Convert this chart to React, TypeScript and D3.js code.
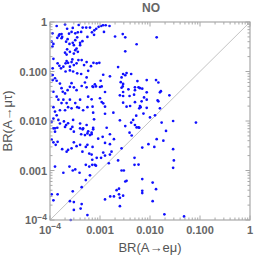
import { useEffect, useRef } from 'react'
import * as d3 from 'd3'

// [BR(A→eμ), BR(A→μτ)]
const brPoints: [number, number][] = [
  [1.12e-4, 0.59], [1.36e-4, 0.83], [1.55e-4, 0.56], [1.7e-4, 0.57], [1.75e-4, 0.5], [2.0e-4, 0.89], [2.2e-4, 0.73], [2.4e-4, 0.58],
  [2.7e-4, 0.63], [2.85e-4, 0.76], [3.2e-4, 0.59], [3.6e-4, 0.62], [3.75e-4, 0.87], [4.2e-4, 0.63], [4.5e-4, 0.77], [5.3e-4, 0.77],
  [5.6e-4, 0.5], [6.3e-4, 0.77], [6.9e-4, 0.62], [7.7e-4, 0.68], [8.4e-4, 0.73], [9.4e-4, 0.8], [1.05e-3, 0.83], [1.15e-3, 0.86],
  [1.3e-3, 0.86], [1.55e-3, 0.83], [1.08e-4, 0.4], [1.12e-4, 0.32], [1.17e-4, 0.36], [1.4e-4, 0.48], [1.5e-4, 0.53], [1.7e-4, 0.47],
  [2.1e-4, 0.4], [2.25e-4, 0.45], [2.45e-4, 0.36], [2.85e-4, 0.38], [3.0e-4, 0.34], [3.2e-4, 0.43], [3.5e-4, 0.49], [4.0e-4, 0.38],
  [4.45e-4, 0.41], [2.2e-4, 0.28], [2.5e-4, 0.25], [3.2e-4, 0.27], [3.4e-4, 0.29], [2.0e-4, 0.24], [2.15e-4, 0.22], [3.0e-4, 0.23],
  [3.6e-4, 0.25], [4.0e-4, 0.34], [1.17e-4, 0.18], [1.42e-4, 0.146], [1.54e-4, 0.13], [1.66e-4, 0.116], [1.85e-4, 0.125], [2.05e-4, 0.146],
  [2.15e-4, 0.163], [2.3e-4, 0.15], [2.5e-4, 0.125], [2.7e-4, 0.155], [2.8e-4, 0.175], [3.0e-4, 0.135], [3.4e-4, 0.146], [3.7e-4, 0.17],
  [4.3e-4, 0.17], [4.8e-4, 0.135], [5.4e-4, 0.155], [6.6e-4, 0.128], [7.4e-4, 0.15], [8.6e-4, 0.146], [9.7e-4, 0.15], [2.05e-4, 0.1],
  [2.5e-4, 0.105], [2.9e-4, 0.1], [3.5e-4, 0.092], [4.2e-4, 0.089], [5.4e-4, 0.076], [5.8e-4, 0.103], [1.13e-4, 0.116], [1.13e-4, 0.085],
  [1.13e-4, 0.067], [1.26e-4, 0.073], [1.36e-4, 0.065], [1.58e-4, 0.057], [1.7e-4, 0.046], [1.8e-4, 0.039], [2.0e-4, 0.036], [2.25e-4, 0.042],
  [2.5e-4, 0.049], [2.7e-4, 0.058], [3.0e-4, 0.048], [3.4e-4, 0.042], [4.3e-4, 0.051], [5.0e-4, 0.06], [5.4e-4, 0.048], [7.9e-4, 0.055],
  [1.17e-4, 0.039], [1.36e-4, 0.031], [1.47e-4, 0.027], [1.7e-4, 0.023], [1.85e-4, 0.027], [2.15e-4, 0.023], [2.5e-4, 0.027], [3.2e-4, 0.023],
  [4.0e-4, 0.027], [5.8e-4, 0.031], [1.17e-4, 0.019], [1.26e-4, 0.0155], [1.36e-4, 0.013], [1.58e-4, 0.0165], [2.0e-4, 0.0165], [2.3e-4, 0.019],
  [2.7e-4, 0.018], [3.5e-4, 0.019], [3.8e-4, 0.0185], [4.6e-4, 0.0165], [5.6e-4, 0.019], [1.17e-4, 0.0112], [1.47e-4, 0.0105], [1.58e-4, 0.0089],
  [1.9e-4, 0.0098], [2.1e-4, 0.0083], [2.9e-4, 0.0105], [4.0e-4, 0.0089], [5.4e-4, 0.0083], [1.26e-4, 0.0071], [4.6e-4, 0.0071],
  [1.08e-4, 0.0097], [1.17e-4, 0.0071], [1.26e-4, 0.0061], [1.4e-4, 0.0073], [2.0e-4, 0.0076], [2.3e-4, 0.009], [2.6e-4, 0.0069], [2.8e-4, 0.0076],
  [3.0e-4, 0.0061], [4.0e-4, 0.0071], [4.2e-4, 0.0054], [4.5e-4, 0.0068], [5.0e-4, 0.0052], [5.6e-4, 0.0056], [5.8e-4, 0.0062], [6.3e-4, 0.0052],
  [6.8e-4, 0.0058], [1.08e-4, 0.0042], [1.17e-4, 0.0037], [1.3e-4, 0.0033], [1.42e-4, 0.0038], [1.75e-4, 0.0027], [2.15e-4, 0.0024], [2.3e-4, 0.0026],
  [2.7e-4, 0.0028], [3.0e-4, 0.0037], [3.4e-4, 0.0031], [4.0e-4, 0.0033], [4.45e-4, 0.0024], [5.2e-4, 0.003], [5.6e-4, 0.0033], [6.1e-4, 0.0022],
  [8.6e-4, 0.0018], [1.05e-3, 0.0018], [1.26e-3, 0.002], [1.5e-3, 0.0014], [2.3e-3, 0.0016], [1.26e-4, 0.0012], [1.85e-4, 0.0009], [2.45e-4, 0.0012],
  [2.85e-4, 0.001], [3.2e-4, 0.00105], [3.9e-4, 0.0009], [5.2e-4, 0.0013], [6.1e-4, 0.0012], [7.0e-4, 0.0013], [8.3e-4, 0.00125], [6.3e-4, 0.0008],
  [2.7e-3, 0.001], [3.0e-3, 0.001], [3.4e-3, 0.00062], [3.2e-3, 0.0006], [1.08e-4, 0.00033], [1.42e-4, 0.00033], [1.17e-4, 0.00025], [2.85e-4, 0.00038],
  [4.3e-4, 0.00046], [5.2e-4, 0.00064], [2.5e-4, 0.00024], [3.0e-4, 0.00016], [4.3e-4, 0.00021], [4.1e-4, 0.00017], [5.6e-4, 0.000126], [2.6e-4, 0.0001],
  [1.26e-3, 0.00026], [1.6e-3, 0.0003], [1.9e-3, 0.0003], [2.15e-3, 0.0004], [2.4e-3, 0.00043], [2.4e-3, 0.00033], [2.5e-3, 0.00028], [2.9e-3, 0.00031],
  [2.5e-3, 0.00019], [3.0e-4, 0.00023],
  [0.0136, 0.49], [0.0054, 0.355], [0.0042, 0.089], [0.0056, 0.064], [0.0086, 0.067], [0.0132, 0.067], [0.0147, 0.06], [0.005, 0.048],
  [0.0059, 0.048], [0.0063, 0.046], [0.005, 0.042], [0.007, 0.045], [0.0086, 0.038], [0.0158, 0.038], [0.0165, 0.04], [0.0244, 0.033],
  [0.0048, 0.034], [0.0076, 0.03], [0.0068, 0.025], [0.005, 0.024], [0.0086, 0.027], [0.0142, 0.026], [0.0147, 0.025], [0.0063, 0.02],
  [0.0061, 0.018], [0.0065, 0.019], [0.0086, 0.0185], [0.0158, 0.018], [0.0074, 0.0141], [0.0053, 0.0128], [0.01, 0.0118], [0.0126, 0.013],
  [0.0046, 0.0105], [0.0042, 0.0093], [0.005, 0.0083], [0.0054, 0.0074], [0.0059, 0.0074], [0.0061, 0.0073], [0.0171, 0.0093], [0.029, 0.01],
  [0.083, 0.0093], [0.0209, 0.0063], [0.0185, 0.004], [0.0136, 0.0043], [0.0122, 0.003], [0.0093, 0.0034], [0.007, 0.0029], [0.029, 0.0027],
  [0.03, 0.0016], [0.029, 0.00113], [0.0049, 0.0018], [0.0049, 0.0013], [0.0059, 0.00132], [0.007, 0.00067], [0.0113, 0.00057], [0.0132, 0.00042],
  [0.007, 0.00039], [0.007, 0.00035], [0.0113, 0.00024], [0.0194, 0.00013], [0.048, 0.000118],
  [7.3e-4, 0.0486], [1.0e-3, 0.0486], [1.26e-3, 0.0385], [6.8e-4, 0.0274], [1.0e-3, 0.0288], [1.08e-3, 0.0242], [1.16e-3, 0.0228], [7.1e-4, 0.0195],
  [1.26e-3, 0.0195], [7.3e-4, 0.0147], [1.26e-3, 0.014], [1.85e-3, 0.0147], [2.5e-3, 0.0103], [7.6e-4, 0.0108], [7.3e-4, 0.0073], [7.3e-4, 0.0068],
  [1.36e-3, 0.0073], [6.8e-4, 0.0054], [9.2e-4, 0.0044], [1.13e-3, 0.0048], [1.26e-3, 0.0036], [1.58e-3, 0.0054], [1.9e-3, 0.0043], [1.58e-3, 0.0034],
  [7.1e-4, 0.003], [6.8e-4, 0.0021], [1.16e-3, 0.0023], [1.58e-3, 0.0021], [1.7e-3, 0.0024], [2.7e-3, 0.047], [2.9e-3, 0.0385], [3.7e-3, 0.0437],
  [2.5e-3, 0.033], [2.9e-3, 0.032], [3.9e-3, 0.032], [2.9e-3, 0.0234], [3.4e-3, 0.0195], [4.0e-3, 0.0201], [3.2e-3, 0.0079], [3.9e-3, 0.0058],
  [4.3e-3, 0.0051], [2.7e-3, 0.0028],
  [2.0e-3, 0.51], [2.85e-3, 0.57], [3.2e-3, 0.49], [3.2e-3, 0.256], [2.3e-3, 0.123], [1.16e-3, 0.086], [1.58e-3, 0.08], [2.9e-3, 0.089],
  [3.2e-3, 0.084], [3.4e-3, 0.093], [2.7e-3, 0.076], [1.03e-3, 0.065], [2.6e-3, 0.061], [2.9e-3, 0.056], [2.85e-3, 0.05], [7.1e-4, 0.05],
  [8.3e-4, 0.05], [1.08e-3, 0.05], [7.6e-4, 0.55], [1.2e-3, 0.63], [7.0e-4, 0.00165], [7.9e-4, 0.0013],
]

const axisDomain = [1e-4, 1]
const xTickLabels = ['10^-4', '0.001', '0.010', '0.100', '1']
const yTickLabels = ['10^-4', '0.001', '0.010', '0.100', '1']
const majorTicks = [1e-4, 1e-3, 1e-2, 1e-1, 1]
const titleText = 'NO'
const xTitle = 'BR(A→eμ)'
const yTitle = 'BR(A→μτ)'

export default function App() {
  const svgRef = useRef<SVGSVGElement>(null)

  useEffect(() => {
    if (!svgRef.current) return
    const width = 273
    const height = 258
    const m = { top: 22, right: 23, bottom: 38, left: 50 }
    const iW = width - m.left - m.right
    const iH = height - m.top - m.bottom

    const svg = d3.select(svgRef.current)
    svg.selectAll('*').remove()
    svg.attr('width', width).attr('height', height)

    const x = d3.scaleLog().domain(axisDomain).range([0, iW])
    const y = d3.scaleLog().domain(axisDomain).range([iH, 0])

    const g = svg.append('g').attr('transform', `translate(${m.left},${m.top})`)
    const frameColor = '#a8a8a8'
    const labelColor = '#666'
    const font = '"Liberation Sans", Arial, sans-serif'

    // diagonal
    g.append('line')
      .attr('x1', x(1e-4)).attr('y1', y(1e-4)).attr('x2', x(1)).attr('y2', y(1))
      .attr('stroke', '#c4c4c4').attr('stroke-width', 1)

    // points
    g.append('g').selectAll('circle').data(brPoints).enter().append('circle')
      .attr('cx', d => x(d[0])).attr('cy', d => y(d[1]))
      .attr('r', 1.35).attr('fill', '#1010ff')

    // minor + major ticks on all sides
    const minor: number[] = []
    for (let k = -4; k < 0; k++) for (let j = 2; j <= 9; j++) minor.push(j * Math.pow(10, k))
    const ticks = g.append('g').attr('stroke', frameColor).attr('stroke-width', 1)
    const addTicks = (vals: number[], len: number) => {
      vals.forEach(v => {
        const px = x(v), py = y(v)
        ticks.append('line').attr('x1', px).attr('x2', px).attr('y1', iH).attr('y2', iH - len)
        ticks.append('line').attr('x1', px).attr('x2', px).attr('y1', 0).attr('y2', len)
        ticks.append('line').attr('y1', py).attr('y2', py).attr('x1', 0).attr('x2', len)
        ticks.append('line').attr('y1', py).attr('y2', py).attr('x1', iW).attr('x2', iW - len)
      })
    }
    addTicks(minor, 2.5)
    addTicks(majorTicks, 4.5)

    g.append('rect').attr('width', iW).attr('height', iH)
      .attr('fill', 'none').attr('stroke', frameColor).attr('stroke-width', 1.2)

    const writeLabel = (sel: d3.Selection<SVGTextElement, unknown, null, undefined>, label: string) => {
      if (label.startsWith('10^')) {
        sel.append('tspan').text('10')
        sel.append('tspan').attr('font-size', '8.5px').attr('dy', -4.5).text('−' + label.slice(4))
      } else sel.text(label)
    }

    // x tick labels
    majorTicks.forEach((v, i) => {
      const t = g.append('text').attr('x', x(v)).attr('y', iH + 13.5)
        .attr('text-anchor', 'middle').attr('fill', labelColor).attr('font-family', font)
        .attr('font-weight', 'bold').attr('font-size', '11px')
      writeLabel(t as any, xTickLabels[i])
    })
    // y tick labels
    majorTicks.forEach((v, i) => {
      const t = g.append('text').attr('x', -3).attr('y', y(v) + 4)
        .attr('text-anchor', 'end').attr('fill', labelColor).attr('font-family', font)
        .attr('font-weight', 'bold').attr('font-size', '11px')
      writeLabel(t as any, yTickLabels[i])
    })

    // titles
    svg.append('text').attr('x', m.left + iW / 2 + 1).attr('y', 12)
      .attr('text-anchor', 'middle').attr('fill', labelColor).attr('font-family', font)
      .attr('font-weight', 'bold').attr('font-size', '12px').text(titleText)
    svg.append('text').attr('x', m.left + iW / 2).attr('y', 252)
      .attr('text-anchor', 'middle').attr('fill', '#555').attr('font-family', font)
      .attr('font-size', '13px').text(xTitle)
    svg.append('text').attr('transform', `translate(12,${m.top + iH / 2}) rotate(-90)`)
      .attr('text-anchor', 'middle').attr('fill', '#555').attr('font-family', font)
      .attr('font-size', '13px').text(yTitle)
  }, [])

  return (
    <svg ref={svgRef} style={{ position: 'absolute', left: 0, top: 0, background: '#fff' }} />
  )
}
